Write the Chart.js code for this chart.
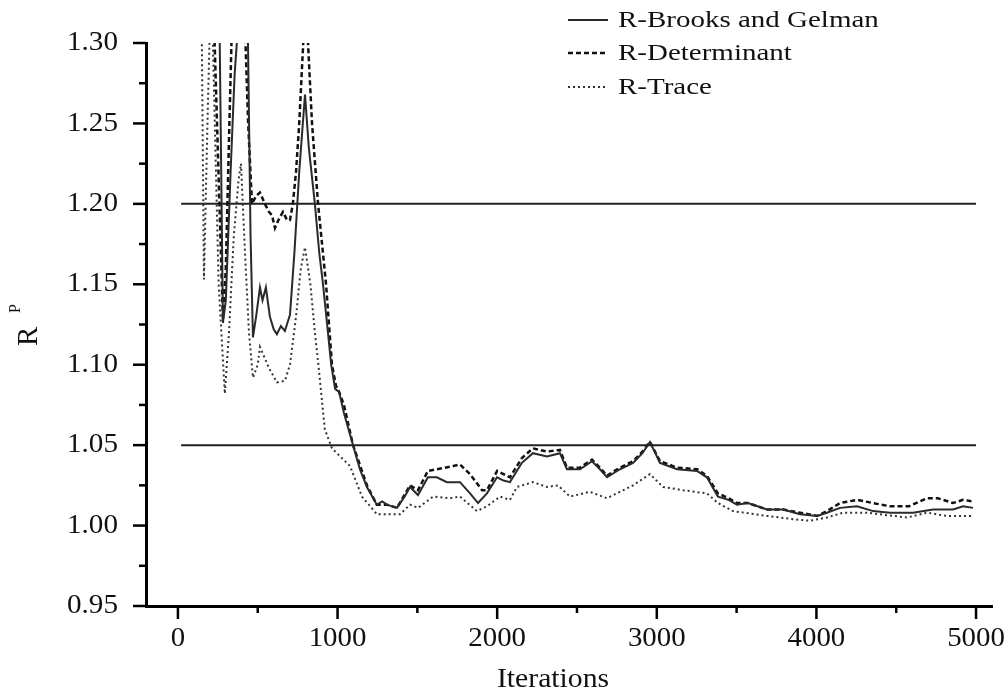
<!DOCTYPE html>
<html lang="en">
<head>
    <meta charset="UTF-8">
    <title>R^P convergence</title>
    <script src="https://cdn.jsdelivr.net/npm/chart.js"></script>
    <style>
        html, body { margin: 0; padding: 0; background: #fff; }
        #wrap { width: 1008px; height: 692px; position: relative; }
    </style>
</head>
<body>
    <div id="wrap"><canvas id="rpChart"></canvas></div>

    <script>
        // Series (x = iterations, y = R^P)
        const bgIter = [140,175,230,262,282,300,330,355,376,405,439,455,470,490,514,530,551,576,600,620,645,670,702,730,760,796,820,858,885,909,940,960,985,1010,1040,1097,1140,1184,1246,1280,1309,1372,1420,1454,1504,1566,1622,1685,1767,1830,1880,1936,1999,2040,2080,2155,2224,2312,2393,2437,2519,2594,2644,2688,2769,2851,2910,2957,3020,3127,3252,3314,3383,3450,3502,3571,3690,3791,3897,4004,4066,4148,4254,4355,4461,4605,4731,4856,4919,4981];
        const bgVals = [1.40,1.37,1.36,1.30,1.126,1.14,1.22,1.28,1.31,1.36,1.30,1.18,1.117,1.13,1.148,1.14,1.148,1.13,1.122,1.119,1.124,1.121,1.131,1.17,1.22,1.268,1.235,1.20,1.17,1.15,1.12,1.10,1.085,1.083,1.07,1.05,1.035,1.024,1.013,1.015,1.013,1.011,1.018,1.024,1.019,1.030,1.030,1.027,1.027,1.020,1.014,1.020,1.030,1.028,1.027,1.039,1.045,1.043,1.045,1.035,1.035,1.040,1.035,1.030,1.035,1.039,1.045,1.052,1.039,1.035,1.034,1.030,1.018,1.016,1.013,1.014,1.010,1.010,1.007,1.006,1.008,1.011,1.012,1.009,1.008,1.008,1.010,1.010,1.012,1.011];

        const detIter = [140,200,230,260,282,300,320,338,380,420,440,464,490,514,545,570,589,608,630,658,683,702,720,740,760,785,800,815,840,878,928,965,990,1010,1040,1097,1184,1246,1309,1372,1454,1504,1566,1622,1725,1767,1830,1905,1936,2000,2080,2155,2224,2312,2393,2437,2519,2594,2644,2688,2769,2851,2910,2957,3020,3127,3252,3314,3383,3450,3502,3571,3690,3791,3897,4004,4066,4148,4254,4355,4461,4580,4693,4760,4856,4919,4981];
        const detVals = [1.38,1.33,1.30,1.20,1.128,1.16,1.24,1.31,1.36,1.31,1.25,1.20,1.205,1.207,1.20,1.195,1.193,1.185,1.19,1.195,1.19,1.19,1.20,1.22,1.25,1.30,1.32,1.30,1.25,1.20,1.15,1.10,1.087,1.083,1.075,1.05,1.025,1.013,1.013,1.011,1.025,1.022,1.034,1.035,1.037,1.038,1.032,1.022,1.022,1.034,1.030,1.042,1.048,1.046,1.047,1.036,1.036,1.041,1.036,1.031,1.036,1.040,1.046,1.052,1.040,1.036,1.035,1.031,1.020,1.017,1.014,1.014,1.010,1.010,1.008,1.006,1.009,1.014,1.016,1.014,1.012,1.012,1.017,1.017,1.014,1.016,1.015];

        const trIter = [120,150,163,185,205,219,255,294,320,350,380,395,420,445,470,500,514,540,570,620,670,702,740,770,796,830,858,880,920,965,996,1078,1153,1247,1328,1391,1454,1504,1598,1704,1767,1873,1936,2018,2080,2124,2224,2312,2381,2456,2581,2688,2851,2957,3039,3164,3314,3383,3477,3690,3853,3960,4066,4167,4317,4399,4568,4693,4818,4981];
        const trVals = [1.38,1.30,1.153,1.25,1.33,1.30,1.15,1.082,1.12,1.18,1.215,1.225,1.17,1.12,1.092,1.10,1.111,1.105,1.098,1.089,1.09,1.10,1.13,1.16,1.173,1.15,1.12,1.10,1.06,1.048,1.045,1.037,1.018,1.007,1.007,1.007,1.013,1.011,1.018,1.017,1.018,1.009,1.012,1.018,1.016,1.024,1.027,1.024,1.025,1.018,1.021,1.017,1.025,1.032,1.024,1.022,1.020,1.014,1.009,1.006,1.004,1.003,1.005,1.008,1.008,1.007,1.005,1.008,1.006,1.006];

        // threshold lines
        const refIter = [20, 5000];
        const refLevels = [1.20, 1.05];

        // axis ticks (every 500 on x, labelled every 1000; every 0.025 on y, labelled every 0.05)
        const xTicks = [0, 500, 1000, 1500, 2000, 2500, 3000, 3500, 4000, 4500, 5000];

        const legendNames = ['R-Brooks and Gelman', 'R-Determinant', 'R-Trace'];

        const FONT = "'Liberation Serif', 'Times New Roman', serif";

        function pairs(xs, ys) {
            return xs.map((x, i) => ({ x: x, y: ys[i] }));
        }

        function isMajorY(v) { return Math.round(v * 1000) % 50 === 0; }

        // the source picture has horizontally widened lettering
        function wideText(ctx, text, x, y, k) {
            ctx.save();
            ctx.translate(x, y);
            ctx.scale(k, 1);
            ctx.fillText(text, 0, 0);
            ctx.restore();
        }

        const series = [
            { label: legendNames[0], data: pairs(bgIter, bgVals), borderColor: '#2a2a2a', borderWidth: 2, borderDash: [] },
            { label: legendNames[1], data: pairs(detIter, detVals), borderColor: '#111', borderWidth: 2.5, borderDash: [5, 3] },
            { label: legendNames[2], data: pairs(trIter, trVals), borderColor: '#333', borderWidth: 2, borderDash: [2, 3] }
        ];

        const refSets = refLevels.map(lv => ({
            label: 'ref',
            data: pairs(refIter, refIter.map(() => lv)),
            borderColor: '#222',
            borderWidth: 2,
            borderDash: []
        }));

        // tick marks, tick labels, axis titles and legend
        const decor = {
            id: 'decor',
            afterDraw(chart) {
                const ctx = chart.ctx;
                const xs = chart.scales.x, ys = chart.scales.y;
                ctx.save();
                ctx.strokeStyle = '#000';
                ctx.fillStyle = '#111';
                ctx.lineWidth = 2.5;

                ctx.font = '27px ' + FONT;
                ctx.textAlign = 'right';
                ctx.textBaseline = 'middle';
                ys.ticks.forEach(t => {
                    const py = ys.getPixelForValue(t.value);
                    const major = isMajorY(t.value);
                    const len = major ? 13 : 7;
                    ctx.beginPath(); ctx.moveTo(xs.left - len, py); ctx.lineTo(xs.left, py); ctx.stroke();
                    if (major) wideText(ctx, t.value.toFixed(2), xs.left - 28, py, 1.08);
                });

                ctx.textAlign = 'center';
                ctx.textBaseline = 'alphabetic';
                xs.ticks.forEach(t => {
                    const px = xs.getPixelForValue(t.value);
                    const major = t.value % 1000 === 0;
                    const len = major ? 13 : 7;
                    ctx.beginPath(); ctx.moveTo(px, ys.bottom); ctx.lineTo(px, ys.bottom + len); ctx.stroke();
                    if (major) wideText(ctx, String(t.value), px, ys.bottom + 40, 1.07);
                });

                // x title
                wideText(ctx, 'Iterations', 553, 687, 1.1);

                // y title R^P
                ctx.save();
                ctx.translate(37, 346);
                ctx.rotate(-Math.PI / 2);
                ctx.textAlign = 'left';
                ctx.font = '29px ' + FONT;
                ctx.fillText('R', 0, 0);
                ctx.font = '16px ' + FONT;
                ctx.fillText('P', 33, -17);
                ctx.restore();

                // legend
                const rows = [20, 53, 87];
                ctx.textAlign = 'left';
                ctx.textBaseline = 'middle';
                ctx.font = '23px ' + FONT;
                series.forEach((s, i) => {
                    ctx.save();
                    ctx.strokeStyle = s.borderColor;
                    ctx.lineWidth = s.borderWidth;
                    ctx.setLineDash(s.borderDash);
                    ctx.beginPath(); ctx.moveTo(568, rows[i]); ctx.lineTo(608, rows[i]); ctx.stroke();
                    ctx.restore();
                    wideText(ctx, s.label, 618, rows[i] + 1, 1.26);
                });
                ctx.restore();
            }
        };

        new Chart(document.getElementById('rpChart'), {
            type: 'line',
            data: {
                datasets: series.concat(refSets).map(s => Object.assign({
                    pointRadius: 0,
                    pointHoverRadius: 0,
                    tension: 0,
                    fill: false
                }, s))
            },
            options: {
                responsive: true,
                maintainAspectRatio: false,
                animation: false,
                events: [],
                layout: { padding: { left: 0, top: 43, right: 16, bottom: 0 } },
                plugins: {
                    legend: { display: false },
                    tooltip: { enabled: false }
                },
                scales: {
                    x: {
                        type: 'linear',
                        min: -200,
                        max: 5100,
                        grid: { display: false, drawTicks: false },
                        border: { display: true, color: '#000', width: 3 },
                        ticks: { display: false },
                        afterBuildTicks: s => { s.ticks = xTicks.map(v => ({ value: v })); },
                        afterFit: s => { s.height = 86; }
                    },
                    y: {
                        min: 0.95,
                        max: 1.30,
                        grid: { display: false, drawTicks: false },
                        border: { display: true, color: '#000', width: 3 },
                        ticks: { display: false, stepSize: 0.025 },
                        afterFit: s => { s.width = 146; }
                    }
                }
            },
            plugins: [decor]
        });
    </script>
</body>
</html>
